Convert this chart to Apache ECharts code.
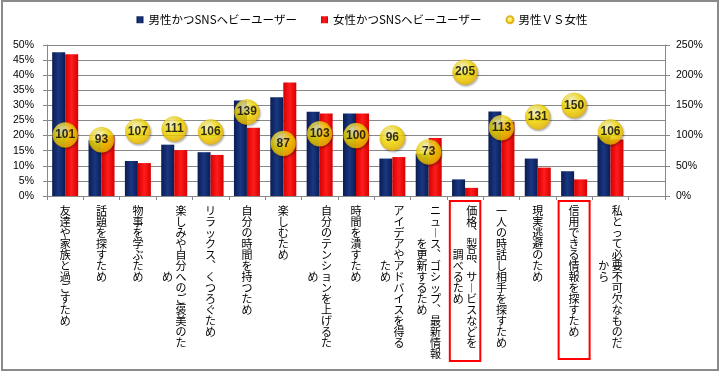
<!DOCTYPE html>
<html>
<head>
<meta charset="utf-8">
<script src="https://cdn.jsdelivr.net/npm/echarts@6.0.0/dist/echarts.min.js"></script>
<style>
  html, body { margin: 0; padding: 0; background: #fff; }
  #chart { width: 724px; height: 377px; }
</style>
</head>
<body>
<div id="chart"></div>
<script>
// 項目名（\n の位置で縦書きの列を折り返す）
const categories = [
  '友達や家族と過ごすため',
  '話題を探すため',
  '物事を学ぶため',
  '楽しみや自分へのご褒美のた\nめ',
  'リラックス、くつろぐため',
  '自分の時間を持つため',
  '楽しむため',
  '自分のテンションを上げるた\nめ',
  '時間を潰すため',
  'アイデアやアドバイスを得る\nため',
  'ニュース、ゴシップ、最新情報\nを更新するため',
  '価格、製品、サービスなどを\n調べるため',
  '一人の時話し相手を探すため',
  '現実逃避のため',
  '信用できる情報を探すため',
  '私とって必要不可欠なものだ\nから',
  ''
]
// 赤枠で囲む項目
const boxedCategories = ['価格、製品、サービスなどを\n調べるため', '信用できる情報を探すため']

const seriesNames = ['男性かつSNSヘビーユーザー', '女性かつSNSヘビーユーザー', '男性ＶＳ女性']
const maleValues = [47.6, 18.4, 11.6, 17.0, 14.5, 31.6, 32.7, 27.9, 27.3, 12.4, 14.0, 5.5, 28.0, 12.4, 8.2, 19.8, null]
const femaleValues = [46.9, 19.8, 10.9, 15.2, 13.6, 22.6, 37.6, 27.3, 27.3, 12.9, 19.2, 2.7, 24.6, 9.4, 5.5, 18.7, null]
const ratioValues = [101, 93, 107, 111, 106, 139, 87, 103, 100, 96, 73, 205, 113, 131, 150, 106, null]

// 横書きの文字列を縦書き風（1行1文字、右の列から読む）に変換
function toVertical(text) {
  const cols = text.split('\n').map(s => Array.from(s.replace(/ー/g, '︱').replace(/、/g, '︑')))
  const first = cols[0]
  if (cols.length === 1) return first.join('\n')
  const second = cols[1]
  const pad = Math.floor((first.length - second.length) / 2) // 2列目は上下中央に寄せる
  let lines = []
  for (let i = 0; i < first.length; i++) {
    const c2 = second[i - pad] || '　'
    lines.push(c2 + ' ' + first[i])
  }
  return lines.join('\n')
}

const xData = categories.map(name => {
  if (name === boxedCategories[0]) {
    return { value: name, textStyle: { borderColor: '#ff0000', borderWidth: 2, padding: [4, 3, 13, 3] } }
  }
  if (name === boxedCategories[1]) {
    return { value: name, textStyle: { borderColor: '#ff0000', borderWidth: 2, padding: [4, 10, 22, 10] } }
  }
  return name
})

const navyColor = new echarts.graphic.LinearGradient(0, 0, 1, 0, [
  { offset: 0, color: '#0a1d52' },
  { offset: 0.5, color: '#1a3783' },
  { offset: 1, color: '#0a1d52' }
])
const redColor = new echarts.graphic.LinearGradient(0, 0, 1, 0, [
  { offset: 0, color: '#d60000' },
  { offset: 0.5, color: '#ff1c1c' },
  { offset: 1, color: '#d60000' }
])
const yellowColor = new echarts.graphic.RadialGradient(0.4, 0.3, 0.75, [
  { offset: 0, color: '#fffbcc' },
  { offset: 0.5, color: '#ffe500' },
  { offset: 1, color: '#eeb400' }
])

const gridColor = '#888888'
const axisFont = { color: '#000', fontSize: 10.5, fontFamily: 'Liberation Sans' }

const chart = echarts.init(document.getElementById('chart'))
const option = {
  backgroundColor: '#fff',
  animation: false,
  graphic: [{
    type: 'rect',
    shape: { x: 2, y: 1, width: 716, height: 369 },
    style: { fill: 'none', stroke: '#8a8a8a', lineWidth: 2 },
    silent: true
  }],
  legend: {
    top: 9,
    left: 'center',
    itemWidth: 7,
    itemHeight: 7,
    itemGap: 24,
    textStyle: { color: '#000', fontSize: 11.5, fontFamily: 'Noto Sans CJK JP' },
    data: [
      { name: seriesNames[0], icon: 'rect' },
      { name: seriesNames[1], icon: 'rect' },
      { name: seriesNames[2], icon: 'circle' }
    ]
  },
  grid: { left: 47, right: 59, top: 45, height: 151 },
  xAxis: {
    type: 'category',
    data: xData,
    axisLine: { lineStyle: { color: gridColor } },
    axisTick: { show: true, length: 4, lineStyle: { color: gridColor } },
    axisLabel: {
      interval: 0,
      margin: 5,
      color: '#000',
      fontSize: 11,
      lineHeight: 11,
      fontFamily: 'Noto Sans CJK JP',
      verticalAlign: 'top',
      padding: [4, 0, 0, 0],
      formatter: toVertical
    }
  },
  yAxis: [{
    type: 'value',
    min: 0,
    max: 50,
    interval: 5,
    axisLine: { show: true, lineStyle: { color: gridColor } },
    axisTick: { show: true, length: 4, lineStyle: { color: gridColor } },
    splitLine: { lineStyle: { color: gridColor } },
    axisLabel: Object.assign({ formatter: '{value}%', margin: 13 }, axisFont)
  }, {
    type: 'value',
    min: 0,
    max: 250,
    interval: 50,
    axisLine: { show: true, lineStyle: { color: gridColor } },
    axisTick: { show: true, length: 5, lineStyle: { color: gridColor } },
    splitLine: { show: false },
    axisLabel: Object.assign({ formatter: '{value}%', margin: 11 }, axisFont)
  }],
  series: [{
    name: seriesNames[0],
    type: 'bar',
    data: maleValues,
    barWidth: 13,
    barGap: '0%',
    itemStyle: { color: navyColor }
  }, {
    name: seriesNames[1],
    type: 'bar',
    data: femaleValues,
    barWidth: 13,
    itemStyle: { color: redColor }
  }, {
    name: seriesNames[2],
    type: 'scatter',
    yAxisIndex: 1,
    data: ratioValues,
    symbolSize: 25,
    z: 5,
    itemStyle: {
      color: yellowColor,
      borderColor: '#d9a400',
      borderWidth: 0.5,
      shadowBlur: 2,
      shadowOffsetX: 1,
      shadowOffsetY: 1.5,
      shadowColor: 'rgba(0,0,0,0.35)'
    },
    label: {
      show: true,
      position: 'inside',
      color: '#000',
      fontSize: 12,
      fontWeight: 'bold',
      fontFamily: 'Liberation Sans',
      formatter: p => p.value
    }
  }]
}
chart.setOption(option)
</script>
</body>
</html>
